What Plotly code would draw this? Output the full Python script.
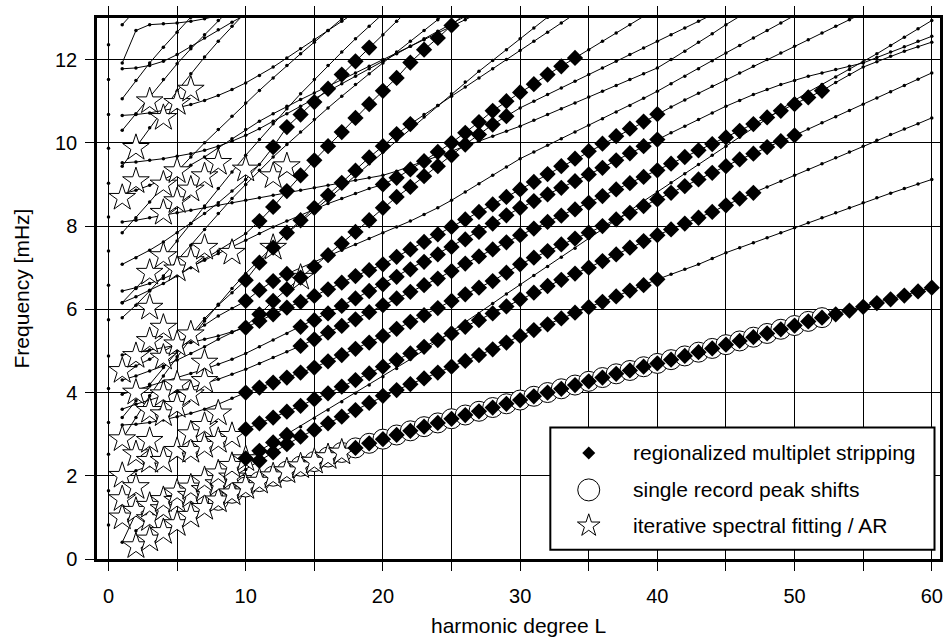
import plotly.graph_objects as go

# ---------------------------------------------------------------------------
# Spheroidal normal-mode branches: frequency (mHz) at consecutive harmonic
# degrees L, starting at the degree given in *_l0.
# ---------------------------------------------------------------------------
radial_f = [0.82, 1.64, 2.52, 3.28, 4.10, 4.88, 5.75, 6.58, 7.40, 8.22,
            9.03, 9.87, 10.68, 11.52, 12.36]          # L = 0 modes

f0_l0 = 2
f0 = [0.31, 0.47, 0.65, 0.84, 1.04, 1.23, 1.41, 1.58, 1.73, 1.86, 1.99, 2.11,
      2.23, 2.34, 2.45, 2.56, 2.67, 2.78, 2.88, 2.98, 3.08, 3.18, 3.27, 3.37,
      3.46, 3.55, 3.64, 3.73, 3.82, 3.91, 4.00, 4.09, 4.18, 4.27, 4.36, 4.45,
      4.53, 4.62, 4.70, 4.79, 4.88, 4.97, 5.06, 5.15, 5.24, 5.33, 5.42, 5.52,
      5.61, 5.71, 5.80, 5.88, 5.97, 6.06, 6.15, 6.24, 6.33, 6.43, 6.52]

p1_l0 = 2
p1 = [0.68, 0.94, 1.17, 1.37, 1.52, 1.66, 1.80, 1.96, 2.15, 2.36, 2.56, 2.76,
      2.94, 3.10, 3.26, 3.42, 3.58, 3.75, 3.92, 4.06, 4.20, 4.34, 4.48, 4.62,
      4.76, 4.90, 5.04, 5.20, 5.36, 5.50, 5.64, 5.78, 5.92, 6.05, 6.18, 6.31,
      6.45, 6.58, 6.72, 6.84, 6.96, 7.08, 7.22, 7.36, 7.48, 7.60, 7.72, 7.84,
      7.96, 8.08, 8.20, 8.32, 8.44, 8.56, 8.68, 8.79, 8.90, 9.01, 9.12]

p2_l0 = 1
p2 = [0.40, 1.10, 1.24, 1.38, 1.52, 1.68, 1.87, 2.05, 2.23, 2.42, 2.60, 2.80,
      2.98, 3.18, 3.38, 3.58, 3.78, 3.98, 4.18, 4.38, 4.58, 4.80, 5.02, 5.24,
      5.46, 5.68, 5.90, 6.14, 6.37, 6.59, 6.81, 7.03, 7.25, 7.47, 7.70, 7.92,
      8.14, 8.37, 8.60, 8.82, 9.04, 9.26, 9.48, 9.70, 9.92, 10.14, 10.36, 10.58,
      10.80, 11.02, 11.22, 11.40, 11.58, 11.76, 11.94, 12.14, 12.34, 12.54,
      12.74, 12.94]

bk_l0 = 1
bk = [2.00, 2.12, 2.24, 2.36, 2.48, 2.60, 2.72, 2.84, 2.97, 3.12, 3.26, 3.40,
      3.54, 3.68, 3.84, 3.98, 4.14, 4.30, 4.46, 4.62, 4.78, 4.94, 5.10, 5.26,
      5.42, 5.58, 5.74, 5.90, 6.07, 6.24, 6.40, 6.56, 6.71, 6.86, 7.00, 7.16,
      7.32, 7.48, 7.64, 7.78, 7.92, 8.06, 8.20, 8.34, 8.50, 8.66, 8.80, 8.94,
      9.08, 9.22, 9.36, 9.50, 9.64, 9.78, 9.92, 10.06, 10.20, 10.33, 10.46, 10.60]

bj_l0 = 1
bj = [3.22, 3.24, 3.28, 3.34, 3.42, 3.50, 3.60, 3.72, 3.86, 4.00, 4.12, 4.24,
      4.36, 4.48, 4.60, 4.75, 4.90, 5.05, 5.20, 5.36, 5.53, 5.70, 5.86, 6.03,
      6.20, 6.36, 6.52, 6.68, 6.88, 7.08, 7.24, 7.40, 7.56, 7.70, 7.84, 8.00,
      8.16, 8.32, 8.48, 8.64, 8.80, 8.96, 9.12, 9.28, 9.44, 9.60, 9.74, 9.90,
      10.04, 10.18, 10.33, 10.48, 10.63, 10.78, 10.93, 11.08, 11.23, 11.38,
      11.53, 11.68]

bi_l0 = 1
bi = [3.60, 3.72, 3.82, 3.92, 4.02, 4.12, 4.22, 4.32, 4.44, 4.56, 4.70, 4.84,
      4.98, 5.12, 5.28, 5.44, 5.60, 5.76, 5.93, 6.10, 6.26, 6.42, 6.58, 6.74,
      6.92, 7.10, 7.27, 7.44, 7.61, 7.78, 7.94, 8.10, 8.25, 8.40, 8.56, 8.72,
      8.88, 9.03, 9.18, 9.34, 9.50, 9.66, 9.82, 9.97, 10.13, 10.29, 10.45,
      10.61, 10.77, 10.93, 11.09, 11.25, 11.45, 11.64, 11.82, 11.95, 12.08,
      12.20, 12.31, 12.42]

bh_l0 = 1
bh = [3.96, 4.06, 4.16, 4.26, 4.36, 4.46, 4.56, 4.68, 4.80, 4.94, 5.10, 5.26,
      5.42, 5.58, 5.74, 5.90, 6.08, 6.26, 6.44, 6.60, 6.78, 6.96, 7.14, 7.32,
      7.50, 7.68, 7.86, 8.06, 8.26, 8.44, 8.60, 8.76, 8.92, 9.08, 9.24, 9.40,
      9.58, 9.75, 9.92, 10.08, 10.24, 10.40, 10.56, 10.72, 10.88, 11.02, 11.16,
      11.28, 11.40, 11.50, 11.60, 11.68, 11.76, 11.84, 11.92, 12.05, 12.18,
      12.31, 12.44, 12.56]

bg_l0 = 1
bg = [4.90, 4.96, 5.02, 5.08, 5.14, 5.20, 5.28, 5.36, 5.46, 5.56, 5.72, 5.88,
      6.04, 6.18, 6.32, 6.48, 6.64, 6.80, 6.94, 7.08, 7.26, 7.44, 7.62, 7.80,
      7.98, 8.16, 8.34, 8.52, 8.70, 8.88, 9.06, 9.25, 9.44, 9.62, 9.80, 9.98,
      10.16, 10.34, 10.51, 10.69, 10.86, 11.03, 11.19, 11.36, 11.52, 11.68,
      11.84, 12.00, 12.16, 12.32, 12.48, 12.64, 12.80, 12.96, 13.12]

bc_l0 = 1
bc = [3.40, 3.80, 4.20, 4.60, 5.00, 5.40, 5.78, 6.10, 6.40, 6.70, 7.12, 7.48,
      7.84, 8.14, 8.44, 8.74, 9.04, 9.33, 9.65, 9.92, 10.21, 10.45, 10.68,
      10.90, 11.12, 11.34, 11.56, 11.78, 12.00, 12.22, 12.44, 12.66, 12.88,
      13.10]

bb_l0 = 1
bb = [6.16, 6.30, 6.46, 6.62, 6.80, 7.00, 7.20, 7.40, 7.60, 7.82, 8.12, 8.46,
      8.84, 9.22, 9.58, 9.92, 10.26, 10.60, 10.93, 11.25, 11.56, 11.93, 12.24,
      12.52, 12.82, 13.12]

ba_l0 = 1
ba = [7.08, 7.24, 7.42, 7.62, 7.84, 8.06, 8.30, 8.56, 8.84, 9.12, 9.48, 9.90,
      10.38, 10.68, 10.98, 11.30, 11.64, 11.96, 12.29, 12.60, 12.92, 13.24]

bf_l0 = 1
bf = [6.44, 6.52, 6.62, 6.74, 6.88, 7.02, 7.18, 7.34, 7.50, 7.66, 7.82, 7.98,
      8.12, 8.26, 8.40, 8.54, 8.66, 8.78, 8.90, 9.00, 9.16, 9.36, 9.56, 9.78,
      10.00, 10.24, 10.50, 10.77, 11.00, 11.21, 11.41, 11.64, 11.84, 12.04,
      12.24, 12.44, 12.64, 12.84, 13.04]

bm_l0 = 1
bm = [4.30, 4.40, 4.52, 4.64, 4.78, 4.94, 5.10, 5.28, 5.44, 5.60, 5.88, 6.20,
      6.48, 6.76, 7.02, 7.30, 7.58, 7.86, 8.14, 8.44, 8.70, 8.94, 9.20, 9.44,
      9.70, 9.96, 10.20, 10.44, 10.64, 10.84, 11.00, 11.16, 11.32, 11.48,
      11.64, 11.80, 11.96, 12.12, 12.28, 12.44, 12.60, 12.76, 12.92, 13.08]

x3_l0 = 1
x3 = [4.52, 4.64, 4.80, 4.98, 5.18, 5.40, 5.62, 5.84, 6.02, 6.20, 6.46, 6.68,
      6.85, 7.00, 7.14, 7.28, 7.42, 7.56, 7.70, 7.84, 7.98, 8.12, 8.28, 8.44,
      8.62, 8.82, 9.02, 9.22, 9.42, 9.62, 9.78, 9.94, 10.10, 10.26, 10.42,
      10.58, 10.74, 10.90, 11.07, 11.24, 11.42, 11.60, 11.78, 11.97, 12.16,
      12.34, 12.52, 12.70, 12.88, 13.06]

x4_l0 = 1
x4 = [8.10, 8.14, 8.20, 8.26, 8.32, 8.38, 8.44, 8.50, 8.56, 8.62, 8.68, 8.74,
      8.80, 8.86, 8.92, 8.98, 9.04, 9.10, 9.16, 9.22, 9.32, 9.44, 9.56, 9.68,
      9.80, 9.92, 10.04, 10.16, 10.28, 10.40, 10.54, 10.68, 10.82, 10.96,
      11.10, 11.24, 11.38, 11.52, 11.66, 11.80, 12.00, 12.20, 12.42, 12.62,
      12.84, 13.04]

fa = [12.84, 13.20]
fb = [11.92, 12.70, 12.84, 12.86, 12.88, 12.92, 12.98, 13.06]
fc = [11.78, 11.80, 11.86, 11.96, 12.12, 12.32, 12.52, 12.72, 12.90, 13.08]
fd = [11.06, 11.50, 11.92, 12.30, 12.66, 13.02]
fe = [10.66, 10.68, 10.72, 10.78, 10.84, 10.92, 11.02, 11.14, 11.28, 11.44,
      11.62, 11.82, 12.04, 12.26, 12.48, 12.70, 12.92, 13.14]
ff = [10.30, 10.70, 11.12, 11.52, 11.90, 12.26, 12.60, 12.94, 13.26]
fg = [9.52, 9.54, 9.58, 9.62, 9.68, 9.74, 9.82, 9.92, 10.04, 10.18, 10.34,
      10.52, 10.70, 10.88, 11.06, 11.24, 11.42, 11.60, 11.78, 11.96, 12.14,
      12.32, 12.50, 12.68, 12.86, 13.04]
fh = [9.44, 9.90, 10.36, 10.80, 11.24, 11.66, 12.06, 12.44, 12.80, 13.14]
fi = [8.77, 8.86, 8.98, 9.12, 9.28, 9.46, 9.66, 9.88, 10.10, 10.32, 10.52,
      10.70, 10.88, 11.04, 11.20, 11.36, 11.52, 11.68, 11.84, 12.00, 12.16,
      12.32, 12.48, 12.64, 12.80, 12.96, 13.12]
fj = [7.84, 8.20, 8.58, 8.96, 9.32, 9.66, 10.00, 10.32, 10.64, 10.96, 11.26,
      11.56, 11.86, 12.14, 12.42, 12.70, 12.98, 13.26]
fn = [5.80, 6.10, 6.44, 6.80, 7.16, 7.54, 7.92, 8.30, 8.66, 9.00, 9.34, 9.66,
      9.96, 10.26, 10.56, 10.84, 11.12, 11.40, 11.66, 11.92, 12.18, 12.44,
      12.70, 12.96, 13.22]
fo = [2.88, 3.40, 3.92, 4.40, 4.86, 5.30, 5.72, 6.12, 6.50, 6.86, 7.20, 7.52,
      7.82, 8.10, 8.38, 8.66, 8.94, 9.22, 9.50, 9.78, 10.06, 10.34, 10.62,
      10.90, 11.18, 11.46, 11.72, 11.98, 12.24, 12.50, 12.76, 13.02]
fp = [6.16, 6.50, 6.86, 7.24, 7.64, 8.06, 8.48, 8.90, 9.30, 9.70, 10.08,
      10.46, 10.82, 11.18, 11.52, 11.86, 12.18, 12.50, 12.80, 13.10]
fill_l0 = 1

branches = {
    "f0": (f0_l0, f0), "p1": (p1_l0, p1), "p2": (p2_l0, p2),
    "bk": (bk_l0, bk), "bj": (bj_l0, bj), "bi": (bi_l0, bi),
    "bh": (bh_l0, bh), "bg": (bg_l0, bg), "bc": (bc_l0, bc),
    "bb": (bb_l0, bb), "ba": (ba_l0, ba), "bf": (bf_l0, bf),
    "bm": (bm_l0, bm), "x3": (x3_l0, x3), "x4": (x4_l0, x4),
    "fa": (fill_l0, fa), "fb": (fill_l0, fb), "fc": (fill_l0, fc),
    "fd": (fill_l0, fd), "fe": (fill_l0, fe), "ff": (fill_l0, ff),
    "fg": (fill_l0, fg), "fh": (fill_l0, fh), "fi": (fill_l0, fi),
    "fj": (fill_l0, fj), "fn": (fill_l0, fn), "fo": (fill_l0, fo),
    "fp": (fill_l0, fp),
}

# Degree ranges measured by regionalized multiplet stripping (per branch)
rms_branch = ["f0", "p1", "p2", "bk", "bj", "bi", "bh", "bg", "bc", "bb",
              "ba", "bf", "bm", "x3"]
rms_lmin = [18, 11, 10, 10, 10, 14, 14, 10, 10, 11, 12, 20, 11, 10]
rms_lmax = [60, 40, 13, 47, 50, 52, 40, 40, 22, 25, 19, 34, 29, 13]

# Single record peak shifts on the fundamental branch
srp_branch = "f0"
srp_lmin, srp_lmax = 8, 52

# Iterative spectral fitting / AR estimates (L, mHz)
isf_l = [1, 1, 1, 1, 1, 1,
         2, 2, 2, 2, 2, 2, 2, 2,
         3, 3, 3, 3, 3, 3, 3, 3, 3, 3,
         4, 4, 4, 4, 4, 4, 4, 4, 4, 4, 4, 4,
         5, 5, 5, 5, 5, 5, 5, 5, 5, 5, 5,
         6, 6, 6, 6, 6, 6, 6, 6, 6, 6,
         7, 7, 7, 7, 7, 7, 7, 7, 7,
         8, 8, 8, 8, 8, 8,
         9, 9, 9, 9, 9,
         10, 10, 10,
         11, 12, 13, 14, 15, 16, 17,
         12, 13, 12, 14]
isf_f = [1.00, 1.44, 2.00, 2.88, 4.52, 8.68,
         0.31, 1.16, 1.73, 2.52, 4.00, 4.88, 9.08, 9.88,
         0.47, 0.96, 1.28, 2.36, 2.84, 3.56, 5.24, 6.04, 6.88, 11.00,
         0.65, 1.20, 1.42, 2.36, 3.48, 3.96, 4.84, 5.56, 7.28, 8.32, 9.00, 10.60,
         0.84, 1.40, 1.60, 2.60, 3.68, 4.20, 5.16, 6.96, 8.60, 9.32, 10.96,
         1.04, 1.52, 1.72, 2.60, 3.00, 3.96, 5.40, 7.16, 8.88, 11.28,
         1.23, 1.66, 1.90, 2.72, 3.20, 4.28, 4.72, 7.48, 9.20,
         1.41, 1.80, 2.06, 2.84, 3.50, 9.52,
         1.58, 1.96, 2.24, 2.96, 7.36,
         1.73, 2.40, 9.36,
         1.86, 1.99, 2.11, 2.23, 2.34, 2.45, 2.56,
         9.20, 9.44, 7.48, 6.76]

legend_labels = ["regionalized multiplet stripping",
                 "single record peak shifts",
                 "iterative spectral fitting / AR"]

x_ticks = [0, 10, 20, 30, 40, 50, 60]
y_ticks = [0, 2, 4, 6, 8, 10, 12]

FONT = "Liberation Sans, Arial, Helvetica, sans-serif"


def branch_points(name, lmin=None, lmax=None):
    l0, vals = branches[name]
    out_l, out_f = [], []
    for i, v in enumerate(vals):
        deg = l0 + i
        if (lmin is None or deg >= lmin) and (lmax is None or deg <= lmax):
            out_l.append(deg)
            out_f.append(v)
    return out_l, out_f


fig = go.Figure()

# branch curves with a dot at every integer degree
line_x, line_y = [], []
for name in branches:
    bl, bv = branch_points(name)
    line_x += bl + [None]
    line_y += bv + [None]
fig.add_trace(go.Scatter(
    x=line_x, y=line_y, mode="lines+markers",
    line=dict(color="black", width=1),
    marker=dict(color="black", size=3.5),
    showlegend=False, hoverinfo="skip"))

# radial modes
fig.add_trace(go.Scatter(
    x=[0] * len(radial_f), y=radial_f, mode="markers",
    marker=dict(color="black", size=3.5), showlegend=False, hoverinfo="skip"))

# single record peak shifts
cl, cf = branch_points(srp_branch, srp_lmin, srp_lmax)
fig.add_trace(go.Scatter(
    x=cl, y=cf, mode="markers",
    marker=dict(symbol="circle", size=20, color="white",
                line=dict(color="black", width=1)),
    showlegend=False, hoverinfo="skip"))

# iterative spectral fitting
fig.add_trace(go.Scatter(
    x=isf_l, y=isf_f, mode="markers",
    marker=dict(symbol="star", size=20, color="white",
                line=dict(color="black", width=1)),
    showlegend=False, hoverinfo="skip"))

# regionalized multiplet stripping
dl, dv = [], []
for name, lo, hi in zip(rms_branch, rms_lmin, rms_lmax):
    a, b = branch_points(name, lo, hi)
    dl += a
    dv += b
fig.add_trace(go.Scatter(
    x=dl, y=dv, mode="markers",
    marker=dict(symbol="diamond", size=12.5, color="black",
                line=dict(color="black", width=0)),
    showlegend=False, hoverinfo="skip"))

# ---- legend box (data coordinates inside the plot) ----
box_x0, box_x1, box_y0, box_y1 = 32.2, 60.2, 0.22, 3.16
key_x, text_x = 35.0, 38.1
row_y = [2.55, 1.66, 0.80]
fig.add_shape(type="rect", xref="x", yref="y",
              x0=box_x0, x1=box_x1, y0=box_y0, y1=box_y1,
              fillcolor="white", line=dict(color="black", width=2),
              layer="between")
key_styles = [
    dict(symbol="diamond", size=10, color="black", line=dict(width=0)),
    dict(symbol="circle", size=22, color="white", line=dict(color="black", width=1)),
    dict(symbol="star", size=17, color="white", line=dict(color="black", width=1)),
]
for yk, style, label in zip(row_y, key_styles, legend_labels):
    fig.add_trace(go.Scatter(x=[key_x], y=[yk], mode="markers", marker=style,
                             showlegend=False, hoverinfo="skip"))
    fig.add_annotation(x=text_x, y=yk, xref="x", yref="y", text=label,
                       showarrow=False, xanchor="left", yanchor="middle",
                       font=dict(family=FONT, size=21, color="black"))

# axis titles
fig.add_annotation(x=0.5, y=-0.123, xref="paper", yref="paper",
                   text="harmonic degree L", showarrow=False,
                   xanchor="center", yanchor="middle",
                   font=dict(family=FONT, size=21, color="black"))
fig.add_annotation(x=-0.089, y=0.5, xref="paper", yref="paper",
                   text="Frequency [mHz]", showarrow=False, textangle=-90,
                   xanchor="center", yanchor="middle",
                   font=dict(family=FONT, size=21, color="black"))

axis_common = dict(
    showline=True, linecolor="black", linewidth=2.5, mirror="allticks",
    ticks="outside", ticklen=9, tickcolor="black", tickwidth=1,
    showgrid=True, gridcolor="black", gridwidth=1, zeroline=False,
    automargin=False,
    tickfont=dict(family=FONT, size=20, color="black"),
)

fig.update_layout(
    template="none",
    width=943, height=639,
    margin=dict(l=97, r=3, t=18, b=80, pad=0),
    paper_bgcolor="white", plot_bgcolor="white",
    xaxis=dict(range=[-0.838, 60.6], tickvals=x_ticks,
               minor=dict(dtick=5, tick0=0, showgrid=True, gridcolor="black",
                          gridwidth=1, ticks="outside", ticklen=9,
                          tickcolor="black"),
               ticklabelstandoff=8, **axis_common),
    yaxis=dict(range=[0, 13], tickvals=y_ticks, ticklabelstandoff=4,
               **axis_common),
    showlegend=False,
)

fig.write_html("out.html")
